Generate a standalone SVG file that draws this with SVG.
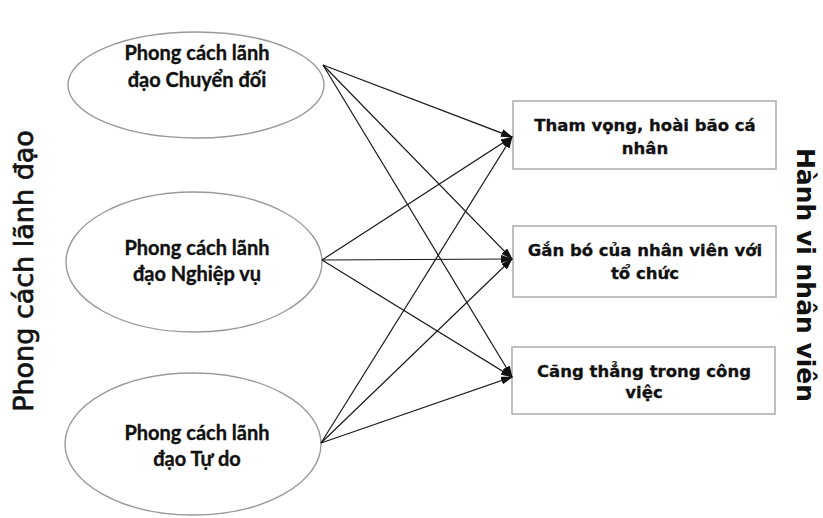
<svg xmlns="http://www.w3.org/2000/svg" width="823" height="518" viewBox="0 0 823 518">
<style>
.bg{fill:#ffffff}
.ell{fill:#ffffff;stroke:#9a9a9a;stroke-width:1.4}
.box{fill:#ffffff;stroke:#a6a6a6;stroke-width:1.4}
.et{font-family:Lato,"Noto Sans",sans-serif;font-weight:bold;font-size:20px;fill:#111;stroke:#111;stroke-width:0.35;text-anchor:middle}
.bt{font-family:"DejaVu Sans",sans-serif;font-weight:bold;font-size:16.5px;fill:#111;stroke:#111;stroke-width:0.3;text-anchor:middle}
.side{font-family:"DejaVu Sans",sans-serif;font-size:27px;fill:#111;stroke:#111;stroke-width:0.7;text-anchor:middle}
.sideb{font-family:"DejaVu Sans",sans-serif;font-weight:bold;font-size:25px;fill:#111;text-anchor:middle}
.con{stroke:#1a1a1a;stroke-width:1.2;fill:none;marker-end:url(#ah)}
</style>
<defs>
<marker id="ah" markerUnits="userSpaceOnUse" markerWidth="12" markerHeight="8" refX="11" refY="4" orient="auto">
<path d="M0,0 L12,4 L0,8 z" fill="#111"/>
</marker>
</defs>
<rect class="bg" x="0" y="0" width="823" height="518"/>

<g id="label-left">
<text class="side" transform="translate(33,271) rotate(-90)">Phong cách lãnh đạo</text>
</g>
<g id="label-right">
<text class="sideb" transform="translate(797,275) rotate(90)">Hành vi nhân viên</text>
</g>

<g id="e1">
<ellipse class="ell" cx="196" cy="85" rx="128" ry="53"/>
<text class="et" x="197" y="60">Phong cách lãnh</text>
<text class="et" x="197" y="87">đạo Chuyển đối</text>
</g>
<g id="e2">
<ellipse class="ell" cx="194" cy="262" rx="128" ry="70"/>
<text class="et" x="197" y="255">Phong cách lãnh</text>
<text class="et" x="197" y="281">đạo Nghiệp vụ</text>
</g>
<g id="e3">
<ellipse class="ell" cx="193" cy="444" rx="128" ry="71"/>
<text class="et" x="197" y="440">Phong cách lãnh</text>
<text class="et" x="197" y="466">đạo Tự do</text>
</g>

<g id="b1">
<rect class="box" x="513" y="101" width="263" height="68"/>
<text class="bt" x="645" y="131">Tham vọng, hoài bão cá</text>
<text class="bt" x="645" y="154">nhân</text>
</g>
<g id="b2">
<rect class="box" x="513" y="226" width="263" height="71"/>
<text class="bt" x="645" y="256">Gắn bó của nhân viên với</text>
<text class="bt" x="645" y="279">tổ chức</text>
</g>
<g id="b3">
<rect class="box" x="512" y="347" width="263" height="67"/>
<text class="bt" x="644" y="377">Căng thẳng trong công</text>
<text class="bt" x="644" y="398">việc</text>
</g>

<g id="connectors">
<line class="con" x1="323" y1="65" x2="512" y2="137"/>
<line class="con" x1="323" y1="65" x2="512" y2="259"/>
<line class="con" x1="323" y1="65" x2="512" y2="377"/>
<line class="con" x1="322" y1="260" x2="512" y2="137"/>
<line class="con" x1="322" y1="260" x2="512" y2="259"/>
<line class="con" x1="322" y1="260" x2="512" y2="377"/>
<line class="con" x1="321" y1="443" x2="512" y2="137"/>
<line class="con" x1="321" y1="443" x2="512" y2="259"/>
<line class="con" x1="321" y1="443" x2="512" y2="377"/>
</g>
</svg>
